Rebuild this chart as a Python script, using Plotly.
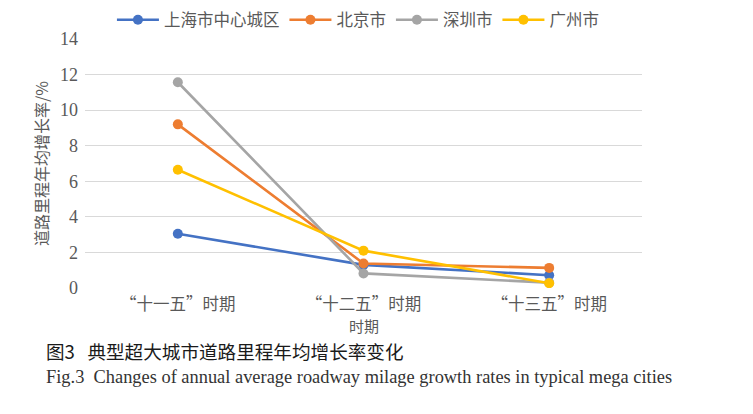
import plotly.graph_objects as go

periods = ["“十一五”时期", "“十二五”时期", "“十三五”时期"]
shanghai = [3.05, 1.3, 0.72]
beijing = [9.2, 1.38, 1.13]
shenzhen = [11.57, 0.82, 0.3]
guangzhou = [6.65, 2.1, 0.27]

series = [
    ("上海市中心城区", shanghai, "#4472C4"),
    ("北京市", beijing, "#ED7D31"),
    ("深圳市", shenzhen, "#A5A5A5"),
    ("广州市", guangzhou, "#FFC000"),
]

CJK = "Noto Sans CJK SC"
SERIF = "Liberation Serif"

fig = go.Figure()
for name, vals, color in series:
    fig.add_trace(go.Scatter(
        x=periods, y=vals, mode="lines+markers", name=name,
        line=dict(color=color, width=2.6),
        marker=dict(color=color, size=10),
    ))

fig.update_xaxes(
    type="category", range=[-0.5, 2.5], showgrid=False, showline=False,
    tickfont=dict(family=CJK, size=16.5, color="#595959"), ticks="",
    ticklabelstandoff=4, automargin=False,
)
fig.update_yaxes(
    range=[0, 14], tickmode="array", tickvals=[0, 2, 4, 6, 8, 10, 12, 14],
    showgrid=True, gridcolor="#D9D9D9", gridwidth=1.2,
    zeroline=False, showline=False, ticks="",
    tickfont=dict(family=SERIF, size=18, color="#595959"),
    ticklabelstandoff=6, automargin=False,
)

annotations = [
    dict(text="道路里程年均增长率/%", textangle=-90, x=-0.08, y=0.50,
         xref="paper", yref="paper", xanchor="center", yanchor="middle", showarrow=False,
         font=dict(family=CJK, size=16, color="#595959")),
    dict(text="时期", x=0.5, y=-0.152, xref="paper", yref="paper",
         xanchor="center", yanchor="middle", showarrow=False,
         font=dict(family=CJK, size=15, color="#595959")),
    dict(text="图3&nbsp;&nbsp;&nbsp;典型超大城市道路里程年均增长率变化", x=-0.0736, y=-0.252,
         xref="paper", yref="paper", xanchor="left", yanchor="middle", showarrow=False,
         font=dict(family=CJK, size=18.6, color="#1a1a1a")),
    dict(text="Fig.3  Changes of annual average roadway milage growth rates in typical mega cities",
         x=-0.0736, y=-0.359, xref="paper", yref="paper", xanchor="left", yanchor="middle",
         showarrow=False, font=dict(family=SERIF, size=18.4, color="#333333")),
]

# the page adds an 8px body margin, so the figure is a little smaller than the window
fig.update_layout(
    width=745, height=406,
    margin=dict(l=77, r=111, t=31, b=126, autoexpand=False),
    plot_bgcolor="white", paper_bgcolor="white",
    legend=dict(orientation="h", x=0.49, xanchor="center", y=1.076, yanchor="middle",
                font=dict(family=CJK, size=16.5, color="#595959"),
                itemwidth=42, tracegroupgap=0),
    annotations=annotations,
)

fig.write_html("out.html")
